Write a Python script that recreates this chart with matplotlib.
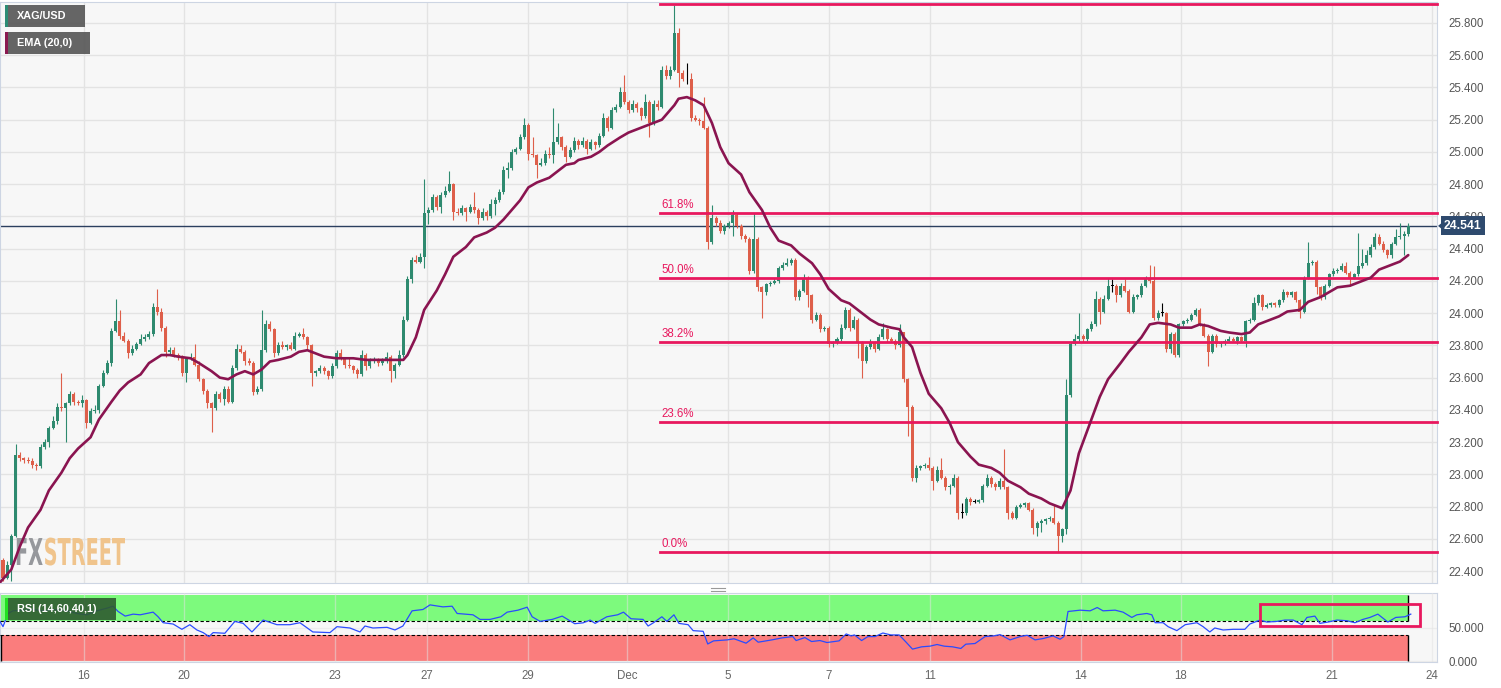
import numpy as np
import matplotlib
matplotlib.use('Agg')
import matplotlib.pyplot as plt
import matplotlib.transforms as mtransforms
from matplotlib.patches import Rectangle, PathPatch, Polygon
from matplotlib.lines import Line2D
from matplotlib.textpath import TextPath
from matplotlib.font_manager import FontProperties

plt.rcParams['font.family'] = ['Liberation Sans', 'DejaVu Sans']

# ---------------- data (2H candles, XAG/USD) ----------------
first_open = 22.47
closes = [
    22.36, 22.44, 22.62, 23.12, 23.10, 23.09, 23.08, 23.06, 23.05, 23.17,
    23.20, 23.29, 23.33, 23.42, 23.41, 23.44, 23.50, 23.45, 23.44, 23.46,
    23.32, 23.39, 23.40, 23.55, 23.63, 23.69, 23.89, 23.95, 23.86, 23.83,
    23.75, 23.78, 23.81, 23.84, 23.85, 23.87, 24.04, 24.01, 23.91, 23.76,
    23.77, 23.74, 23.73, 23.63, 23.72, 23.73, 23.68, 23.59, 23.52, 23.44,
    23.41, 23.50, 23.47, 23.53, 23.45, 23.66, 23.78, 23.76, 23.70, 23.69,
    23.51, 23.53, 23.77, 23.93, 23.90, 23.75, 23.80, 23.79, 23.80, 23.78,
    23.86, 23.87, 23.85, 23.80, 23.63, 23.64, 23.66, 23.64, 23.61, 23.67,
    23.75, 23.72, 23.68, 23.67, 23.65, 23.62, 23.74, 23.67, 23.70, 23.71,
    23.69, 23.70, 23.73, 23.64, 23.68, 23.74, 23.96, 24.21, 24.33, 24.32,
    24.35, 24.62, 24.64, 24.72, 24.66, 24.73, 24.76, 24.80, 24.63, 24.62,
    24.65, 24.63, 24.66, 24.64, 24.59, 24.63, 24.60, 24.68, 24.70, 24.75,
    24.89, 24.90, 25.00, 25.02, 25.09, 25.17, 24.99, 24.98, 24.92, 24.93,
    24.99, 24.98, 25.06, 25.09, 25.03, 24.97, 25.01, 25.07, 25.04, 25.07,
    25.02, 25.06, 25.04, 25.10, 25.21, 25.15, 25.26, 25.28, 25.37, 25.31,
    25.26, 25.30, 25.27, 25.22, 25.31, 25.18, 25.30, 25.28, 25.51, 25.47,
    25.51, 25.74, 25.49, 25.45, 25.45, 25.21, 25.20, 25.19, 25.15, 24.44,
    24.59, 24.56, 24.51, 24.54, 24.56, 24.61, 24.54, 24.48, 24.46, 24.26,
    24.46, 24.16, 24.13, 24.18, 24.19, 24.20, 24.28, 24.30, 24.31, 24.33,
    24.10, 24.14, 24.22, 24.11, 23.96, 23.99, 23.90, 23.91, 23.81, 23.82,
    23.84, 23.91, 24.02, 23.91, 23.96, 23.82, 23.70, 23.79, 23.82, 23.78,
    23.85, 23.90, 23.84, 23.83, 23.80, 23.88, 23.59, 23.42, 22.98, 23.04,
    23.05, 23.06, 23.04, 22.96, 23.03, 22.98, 22.92, 22.93, 22.98, 22.76,
    22.76, 22.85, 22.83, 22.83, 22.84, 22.93, 22.98, 22.94, 22.92, 22.96,
    22.92, 22.76, 22.73, 22.80, 22.81, 22.82, 22.78, 22.67, 22.70, 22.71,
    22.72, 22.73, 22.70, 22.62, 22.66, 23.49, 23.81, 23.84, 23.86, 23.84,
    23.90, 23.93, 24.09, 24.01, 24.09, 24.17, 24.17, 24.11, 24.17, 24.14,
    24.01, 24.10, 24.11, 24.17, 24.22, 24.20, 23.97, 24.00, 24.00, 23.78,
    23.87, 23.74, 23.93, 23.95, 23.96, 23.99, 24.02, 23.93, 23.86, 23.76,
    23.86, 23.81, 23.82, 23.83, 23.84, 23.83, 23.85, 23.83, 23.95, 23.96,
    24.06, 24.11, 24.04, 24.05, 24.06, 24.05, 24.08, 24.13, 24.11, 24.13,
    24.08, 24.01, 24.22, 24.31, 24.32, 24.16, 24.10, 24.17, 24.24, 24.26,
    24.27, 24.29, 24.25, 24.22, 24.24, 24.29, 24.31, 24.36, 24.41, 24.47,
    24.43, 24.39, 24.36, 24.43, 24.47, 24.48, 24.49, 24.541,
]
# upper / lower shadow lengths in cents
wick_hi = [
    1, 2, 1, 7, 2, 1, 2, 2, 1, 2, 2, 1, 3, 2, 21, 1, 2, 1, 1, 3,
    1, 2, 3, 1, 2, 2, 2, 14, 7, 2, 1, 2, 1, 3, 2, 2, 2, 11, 2, 1,
    2, 2, 1, 1, 1, 2, 8, 2, 1, 1, 1, 2, 1, 2, 2, 2, 3, 2, 1, 2,
    1, 2, 25, 3, 2, 1, 2, 3, 1, 2, 2, 1, 4, 1, 1, 1, 2, 1, 1, 2,
    2, 3, 1, 5, 1, 1, 3, 1, 2, 2, 1, 2, 3, 1, 1, 3, 2, 2, 2, 3,
    2, 21, 2, 2, 1, 2, 3, 8, 1, 2, 2, 1, 2, 9, 1, 2, 1, 3, 2, 2,
    2, 4, 2, 1, 2, 4, 1, 10, 1, 3, 2, 4, 21, 9, 1, 1, 2, 2, 1, 2,
    1, 2, 1, 2, 3, 1, 2, 2, 3, 11, 1, 2, 1, 1, 5, 1, 2, 2, 2, 3,
    2, 17, 3, 2, 10, 4, 2, 1, 15, 1, 8, 1, 2, 1, 1, 3, 1, 1, 1, 1,
    16, 1, 1, 1, 1, 2, 1, 2, 3, 1, 1, 1, 2, 1, 1, 2, 1, 1, 1, 1,
    1, 2, 2, 1, 2, 1, 1, 1, 2, 1, 2, 4, 1, 1, 1, 5, 0, 1, 1, 2,
    1, 1, 5, 1, 2, 7, 1, 1, 2, 1, 6, 1, 1, 2, 1, 1, 2, 1, 1, 2,
    20, 1, 1, 1, 1, 1, 1, 1, 1, 1, 1, 1, 8, 1, 1, 10, 1, 3, 14, 1,
    1, 2, 5, 1, 2, 5, 4, 1, 2, 4, 1, 2, 1, 2, 1, 8, 9, 2, 6, 1,
    1, 1, 1, 1, 1, 1, 1, 1, 1, 1, 1, 1, 1, 1, 2, 1, 1, 1, 1, 1,
    4, 1, 1, 1, 1, 1, 1, 2, 1, 1, 1, 1, 1, 13, 1, 1, 1, 1, 1, 2,
    1, 2, 3, 1, 1, 21, 9, 3, 2, 3, 2, 2, 1, 1, 5, 8, 2, 2,
]
wick_lo = [
    2, 1, 10, 1, 2, 2, 1, 2, 2, 1, 1, 3, 1, 2, 2, 21, 1, 2, 1, 2,
    3, 1, 1, 2, 1, 1, 2, 1, 2, 1, 3, 1, 1, 1, 1, 1, 1, 2, 2, 3,
    2, 1, 2, 2, 6, 1, 1, 1, 2, 3, 15, 1, 2, 4, 1, 1, 1, 1, 2, 1,
    2, 1, 1, 1, 1, 2, 1, 1, 2, 1, 1, 1, 1, 2, 8, 2, 1, 2, 2, 1,
    1, 1, 2, 1, 2, 2, 1, 2, 1, 1, 2, 1, 1, 7, 4, 1, 1, 1, 2, 1,
    1, 7, 7, 1, 2, 4, 1, 1, 5, 1, 1, 6, 1, 2, 4, 1, 2, 1, 7, 1,
    1, 5, 1, 1, 1, 1, 4, 1, 8, 1, 1, 2, 5, 1, 2, 3, 1, 1, 2, 1,
    3, 1, 2, 1, 1, 2, 1, 1, 1, 1, 2, 1, 2, 2, 1, 9, 1, 2, 1, 2,
    2, 1, 9, 1, 3, 2, 1, 2, 1, 4, 1, 2, 1, 2, 1, 8, 1, 2, 2, 2,
    1, 2, 16, 2, 1, 1, 1, 1, 1, 1, 2, 2, 1, 7, 2, 1, 2, 1, 2, 2,
    1, 1, 1, 2, 1, 10, 10, 1, 1, 2, 1, 1, 2, 1, 2, 1, 2, 18, 2, 3,
    1, 1, 1, 6, 1, 1, 2, 4, 1, 4, 3, 1, 2, 1, 1, 1, 1, 2, 2, 1,
    1, 4, 1, 1, 1, 1, 1, 4, 5, 6, 2, 1, 1, 10, 4, 3, 1, 1, 1, 2,
    1, 1, 1, 8, 1, 1, 4, 4, 1, 1, 1, 1, 1, 1, 1, 1, 1, 1, 2, 2,
    3, 1, 1, 1, 1, 1, 1, 1, 1, 9, 1, 2, 2, 2, 1, 1, 2, 1, 4, 1,
    1, 1, 2, 1, 1, 1, 1, 1, 1, 1, 1, 4, 1, 1, 1, 4, 2, 1, 1, 1,
    1, 1, 1, 5, 1, 1, 1, 1, 1, 1, 1, 1, 2, 2, 1, 1, 12, 1,
]

# EMA(20) (candle index, value)
ema_idx = [-0.7, 2, 4, 6, 9, 11, 14, 16, 18, 21, 23, 26, 28, 30, 33, 35, 38, 40, 42, 45,
           47, 50, 52, 54, 56, 58, 60, 62, 64, 66, 69, 71, 73, 75, 77, 80, 82, 84, 87, 89,
           92, 94, 96, 97, 99, 101, 104, 106, 108, 111, 113, 116, 118, 120, 122, 124, 126, 128, 131, 133,
           135, 137, 138, 141, 143, 145, 148, 150, 153, 155, 158, 159, 161, 162, 164, 166, 168, 170, 172, 174,
           177, 179, 182, 184, 186, 189, 191, 194, 196, 198, 201, 203, 205, 208, 210, 213, 215, 216, 218, 220,
           222, 225, 227, 229, 232, 234, 237, 239, 241, 244, 246, 249, 251, 253, 254, 256, 258, 261, 263, 265,
           268, 270, 273, 275, 277, 280, 282, 285, 287, 289, 292, 294, 297, 299, 301, 304, 306, 308, 311, 313,
           316, 318, 320, 323, 325, 328, 330, 332, 335, 337]
ema_vals = [22.33, 22.41, 22.55, 22.67, 22.78, 22.90, 23.01, 23.10, 23.16, 23.23,
            23.34, 23.45, 23.52, 23.57, 23.62, 23.69, 23.74, 23.74, 23.73, 23.72,
            23.69, 23.64, 23.60, 23.59, 23.62, 23.64, 23.62, 23.65, 23.70, 23.71,
            23.73, 23.76, 23.77, 23.75, 23.73, 23.72, 23.72, 23.72, 23.71, 23.71,
            23.71, 23.71, 23.71, 23.74, 23.85, 24.02, 24.14, 24.24, 24.35, 24.41,
            24.47, 24.50, 24.53, 24.58, 24.64, 24.70, 24.78, 24.81, 24.84, 24.88,
            24.92, 24.93, 24.95, 24.97, 25.00, 25.04, 25.09, 25.12, 25.15, 25.17,
            25.20, 25.23, 25.29, 25.33, 25.34, 25.32, 25.29, 25.18, 25.03, 24.93,
            24.86, 24.75, 24.64, 24.53, 24.45, 24.42, 24.37, 24.31, 24.24, 24.15,
            24.08, 24.06, 24.02, 23.96, 23.93, 23.91, 23.90, 23.85, 23.79, 23.63,
            23.50, 23.41, 23.32, 23.20, 23.11, 23.06, 23.04, 23.01, 22.96, 22.92,
            22.88, 22.85, 22.82, 22.80, 22.79, 22.90, 23.13, 23.34, 23.48, 23.59,
            23.69, 23.76, 23.85, 23.93, 23.94, 23.93, 23.91, 23.91, 23.93, 23.92,
            23.89, 23.88, 23.87, 23.88, 23.93, 23.96, 23.98, 24.01, 24.02, 24.07,
            24.10, 24.13, 24.16, 24.17, 24.19, 24.22, 24.27, 24.29, 24.32, 24.36]

# RSI(14) (candle index, value)
rsi_idx = [-0.7, 0, 1.2, 2.4, 4.8, 7.2, 9.6, 12.0, 15.3, 17.7, 20.1, 22.5, 24.9, 26.4, 27.6,
           29.3, 31.2, 32.9, 34.5, 36.0, 37.2, 38.4, 40.8, 42.9, 44.8, 46.5, 48.0, 49.4, 50.4,
           53.2, 55.6, 57.6, 59.7, 62.4, 65.7, 68.8, 71.2, 74.3, 78.4, 80.1, 83.2, 85.6, 86.8,
           88.7, 92.1, 94.0, 95.9, 98.1, 100.7, 102.4, 105.5, 107.7, 108.9, 112.7,
           114.4, 116.8, 119.4, 120.9, 123.5, 125.7, 126.9, 128.8, 131.7, 134.1,
           137.1, 139.1, 140.8, 142.0, 144.8, 147.4, 148.8, 150.6, 153.5, 154.7,
           156.0, 158.0, 159.2, 160.9, 162.1, 164.3, 165.5, 167.9, 169.0, 170.4,
           173.7, 175.3, 178.2, 179.9, 181.1, 184.4, 186.8, 189.4, 190.2, 192.3,
           193.9, 195.9, 197.6, 200.5, 202.2, 203.4, 204.2, 205.9, 207.4, 209.1,
           211.0, 212.9, 214.9, 216.5, 218.1, 220.3, 222.3, 224.0, 225.7, 227.7,
           229.7, 230.9, 233.1, 235.5, 237.6,
           239.1, 241.5, 243.9, 245.6, 247.5, 249.4, 251.8, 253.5, 254.4, 255.4,
           258.3, 260.7, 262.4, 263.8, 266.7, 268.6, 270.7, 271.9, 274.3, 275.5,
           276.3, 278.2, 279.4, 281.5, 283.5, 286.3, 287.8, 289.4, 290.6, 292.6,
           295.0, 297.8, 299.0, 301.4, 303.1, 305.5, 307.4, 309.4, 311.5, 312.7,
           314.6, 315.8, 317.7, 319.9, 322.3, 324.2, 326.1, 327.8, 329.7, 332.1,
           334.0, 336.2, 337.6]
rsi_vals = [59.6, 52, 72, 76, 77, 78, 76, 78, 76, 72, 70, 76, 80, 83, 75,
            68, 71, 70, 72, 74, 67, 58, 56, 48, 55, 47, 43, 37, 43,
            42, 60, 57, 44, 62, 55, 55, 58, 44, 43, 52, 50, 44, 53,
            50, 51, 47, 53, 76, 78, 85, 82, 83, 72, 70,
            63, 63, 67, 74, 77, 81.5, 67, 60, 63, 68,
            56.5, 57.8, 62, 57, 67, 70, 74, 64, 63, 53,
            58, 67, 60, 70, 57, 55, 46, 45, 25.8, 30.5,
            32, 33.7, 27, 35, 28.5, 32, 35, 37, 31, 35.5,
            29.5, 31, 28, 30.5, 41, 38, 39.5, 31, 37, 37,
            42.4, 39.5, 39.5, 29, 18, 21.5, 22.5, 25, 22.5, 21.5,
            19, 25.5, 26.5, 37, 38,
            40, 32, 37, 39, 32, 34, 38, 33, 37, 75,
            77, 76, 81, 76, 77, 74, 66, 70, 72, 70,
            58, 58, 52, 46, 55, 58, 52, 44, 50, 47,
            48, 48, 56, 62, 59, 60, 62, 62, 55, 66,
            68, 57, 59, 62, 61, 58, 63, 66, 71, 59,
            66, 67, 71]

fib_high, fib_low = 25.92, 22.52
fib_ratios = [1.0, 0.618, 0.5, 0.382, 0.236, 0.0]
fib_labels = ['100.0%', '61.8%', '50.0%', '38.2%', '23.6%', '0.0%']
last_price = 24.541

x_tick_labels = ['16', '20', '23', '27', '29', 'Dec', '5', '7', '11', '14', '18', '21', '24']
x_tick_pos = [19.4, 43.4, 79.6, 101.7, 125.9, 149.6, 173.9, 198.1, 222.3, 258.5, 282.5, 318.7, 342.6]

# ---------------- layout ----------------
W, H = 1501, 688
STEP, X0 = 4.17, 3.0   # pixels per candle, pixel of first candle


def fr(x0, y0, x1, y1):
    return [x0 / W, 1 - y1 / H, (x1 - x0) / W, (y1 - y0) / H]


fig = plt.figure(figsize=(W / 100, H / 100), dpi=100)
fig.patch.set_facecolor('white')
ax = fig.add_axes(fr(0, 2, 1437, 583))
axr = fig.add_axes(fr(0, 593, 1437, 662), sharex=ax)

GREEN, RED = '#2e8a6f', '#de5f4a'
BG, GRID, SPINE = '#f7f7f7', '#e3e3e3', '#cdd5e3'
FIB = '#e8185e'

xl, xr = (0 - X0) / STEP, (1437 - X0) / STEP

o = np.r_[first_open, closes[:-1]]
c = np.array(closes)
hi = np.maximum(o, c) + np.array(wick_hi) / 100
lo = np.minimum(o, c) - np.array(wick_lo) / 100
x = np.arange(len(c))
cols = np.where(c > o, GREEN, np.where(c < o, RED, 'black'))

for a in (ax, axr):
    a.set_facecolor(BG)
    for s in a.spines.values():
        s.set_color(SPINE)
    a.yaxis.tick_right()
    a.tick_params(length=0, colors='#555555', labelsize=8.3)
    a.set_xticks(x_tick_pos)
    a.grid(True, color=GRID, lw=1)

# price panel
ax.set_axisbelow(True)
ax.set_xlim(xl, xr)
ax.set_ylim(22.326, 25.930)
ax.set_yticks(np.arange(22.4, 25.81, 0.2))
ax.set_yticklabels([f'{v:.3f}' for v in np.arange(22.4, 25.81, 0.2)])
ax.tick_params(axis='y', pad=8)
ax.tick_params(axis='x', labelbottom=False)

ax.vlines(x, lo, hi, colors=cols, lw=0.8, zorder=3)
body = np.maximum(np.abs(c - o), 0.004)
ax.bar(x, body, bottom=np.minimum(o, c), width=0.72, color=cols, lw=0, zorder=4)

ax.axhline(last_price, color='#2b3f5f', lw=1, zorder=2.5)
ax.plot(ema_idx, ema_vals, color='#8a1450', lw=1.9, zorder=6, solid_capstyle='round')

fib_x0 = (660 - X0) / STEP
for r, lab in zip(fib_ratios, fib_labels):
    lv = fib_low + r * (fib_high - fib_low)
    ax.plot([fib_x0, xr], [lv, lv], color=FIB, lw=2, zorder=5, clip_on=False)
    ax.text(fib_x0 + 0.4, lv + 0.012, lab, color=FIB, fontsize=8.3, va='bottom', ha='left',
            zorder=7, clip_on=False)

# last price tag
tr = mtransforms.blended_transform_factory(ax.transAxes, ax.transData)
ax.text(1 + 7 / 1437, last_price, f'{last_price:.3f}', transform=tr, ha='left', va='center',
        color='white', fontsize=8.8, fontweight='bold', clip_on=False,
        bbox=dict(boxstyle='square,pad=0.28', fc='#2e4a6e', ec='none'))
ax.add_patch(Polygon([(1 + 1 / 1437, last_price), (1 + 7 / 1437, last_price + 0.03),
                      (1 + 7 / 1437, last_price - 0.03)], closed=True, transform=tr,
                     fc='#2e4a6e', ec='none', clip_on=False))

# watermark
fp = FontProperties(family='DejaVu Sans', weight='bold')
tp_fx = TextPath((0, 0), 'FX', size=1, prop=fp)
tp_st = TextPath((0, 0), 'STREET', size=1, prop=fp)
sy = 27 / 0.73
sx = 110 / (tp_fx.get_extents().x1 + tp_st.get_extents().x1 + 0.05)
base_y = H - 565
ax.add_patch(PathPatch(tp_fx, transform=mtransforms.Affine2D().scale(sx, sy).translate(15, base_y),
                       fc='#96989c', ec='none', zorder=1.5))
ax.add_patch(PathPatch(tp_st, transform=mtransforms.Affine2D().scale(sx, sy).translate(
    15 + (tp_fx.get_extents().x1 + 0.05) * sx, base_y), fc='#f0c48c', ec='none', zorder=1.5))

# RSI panel
axr.set_axisbelow(False)
axr.set_ylim(-1.5, 103)
axr.set_yticks([0, 50])
axr.set_yticklabels(['0.000', '50.000'])
axr.tick_params(axis='y', pad=8)
axr.tick_params(axis='x', pad=6, colors='#666666')
axr.set_xticklabels(x_tick_labels)
last_i = len(c) - 1
axr.add_patch(Rectangle((xl, 60), last_i - xl, 40, fc='#7dfa7d', ec='none', zorder=0.5))
axr.add_patch(Rectangle((xl, 0), last_i - xl, 40, fc='#fa7d7d', ec='none', zorder=0.5))
axr.hlines([60, 40], xl, last_i, colors='black', linestyles=(0, (3, 2)), lw=0.8, zorder=3)
axr.vlines([last_i, last_i], [0, 60], [40, 100], colors='black', lw=1, zorder=3)
axr.vlines([xl + 0.2], [0], [40], colors='black', lw=1, zorder=3)
for gl in axr.get_xgridlines() + axr.get_ygridlines():
    gl.set_alpha(0.5)
    gl.set_zorder(1)
axr.plot(rsi_idx, rsi_vals, color='#2a4bff', lw=0.9, zorder=5)
axr.add_patch(Rectangle(((1260 - X0) / STEP, 53), 160 / STEP, 33, fill=False, ec=FIB, lw=2,
                        zorder=6, clip_on=False))


# legend tags (figure pixels)
def tag(x0, y0, x1, y1, text, bar, fc):
    fig.add_artist(Rectangle((x0 / W, 1 - y1 / H), (x1 - x0) / W, (y1 - y0) / H,
                             transform=fig.transFigure, fc=fc, ec='none', alpha=0.9))
    fig.add_artist(Rectangle((x0 / W, 1 - y1 / H), 3 / W, (y1 - y0) / H,
                             transform=fig.transFigure, fc=bar, ec='none'))
    fig.text((x0 + 12) / W, 1 - (y0 + y1) / 2 / H, text, color='white', fontsize=7.8,
             fontweight='bold', va='center', ha='left')


tag(5, 5, 85, 27, 'XAG/USD', '#2c8c74', '#555555')
tag(5, 32, 90, 54, 'EMA (20,0)', '#8b1a50', '#555555')
tag(5, 598, 116, 620, 'RSI (14,60,40,1)', '#22e022', '#2f5a30')

# panel grip
for yy in (587.5, 590.5):
    fig.add_artist(Line2D([711 / W, 725 / W], [1 - yy / H] * 2, color='#9a9a9a', lw=0.8))

fig.savefig('out.png', dpi=100)
